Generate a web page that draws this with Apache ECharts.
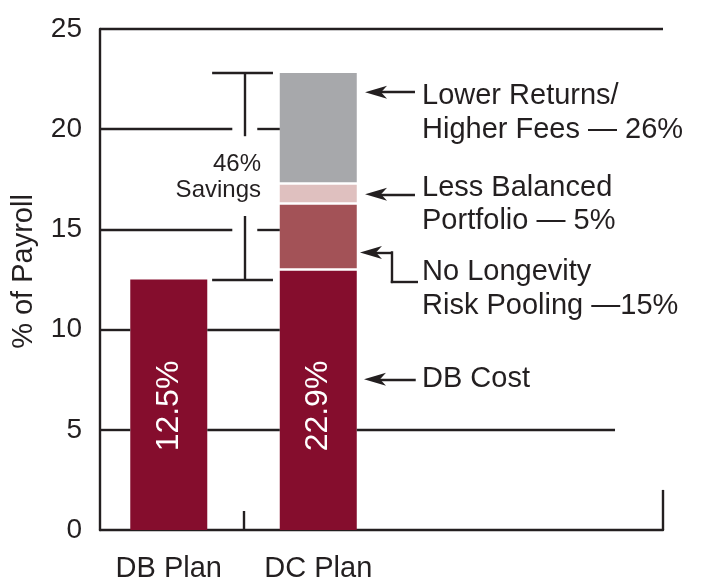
<!DOCTYPE html>
<html>
<head>
<meta charset="utf-8">
<script src="https://cdn.jsdelivr.net/npm/echarts@6/dist/echarts.min.js"></script>
<style>html,body{margin:0;padding:0;background:#fff}#c{width:705px;height:583px}</style>
</head>
<body>
<div id="c"></div>
<script>
// ---- data ----
const categories = ['DB Plan', 'DC Plan'];
const dbCost = [12.5, 13.0];
const longevity = [null, 3.3];
const portfolio = [null, 1.0];
const returnsFees = [null, 5.5];
const barLabels = ['12.5%', '22.9%'];
const yTicks = [0, 5, 10, 15, 20, 25];
const annotationTexts = [
  'Lower Returns/\nHigher Fees \u2014 26%',
  'Less Balanced\nPortfolio \u2014 5%',
  'No Longevity\nRisk Pooling \u201415%',
  'DB Cost'
];
const savingsText = '46%\nSavings';

// ---- style / layout ----
const INK = '#231f20';
const FONT = 'Liberation Sans, Arial, Helvetica, sans-serif';
const LW = 2.4;
const xMin = 0.04, xMax = 3.806;
const half = 38.5 / 149.5;           // half bar width in x units
const colors = ['#850d2d', '#a35257', '#dfc0bf', '#a7a8ab'];
const arrowPath = 'path://M7,0 L14,22 L7,16 L0,22 Z';
const arrowSize = [13, 22];
const arrowHalf = 11 / 149.5;

const cx = i => i + 0.5;
const dcIdx = 1;
const dcL = cx(dcIdx) - half, dcR = cx(dcIdx) + half;
const dbL = cx(0) - half, dbR = cx(0) + half;
const dcTop = dbCost[dcIdx] + longevity[dcIdx] + portfolio[dcIdx] + returnsFees[dcIdx];
const dbTop = dbCost[0];

function seg(x1, y1, x2, y2, extra) {
  const a = Object.assign({coord: [x1, y1]}, extra && extra.from || {});
  const b = Object.assign({coord: [x2, y2]}, extra && extra.to || {});
  if (extra && extra.style) a.lineStyle = extra.style;
  return [a, b];
}

const lines = [];
// gridline segments
const gridSegs = {
  25: [[xMin, xMax]],
  20: [[xMin, 0.925], [1.092, dcL]],
  15: [[xMin, 0.925], [1.092, dcL]],
  10: [[xMin, dbL], [dbR, dcL]],
  5: [[xMin, dbL], [dbR, dcL], [dcR, 3.485]]
};
yTicks.forEach(t => { (gridSegs[t] || []).forEach(r => lines.push(seg(r[0], t, r[1], t))); });
// right end bit
lines.push(seg(xMax, 0, xMax, 2));
// white separators between stacked DC segments
let acc = 0;
[dbCost, longevity, portfolio].forEach(arr => {
  acc += arr[dcIdx];
  lines.push(seg(dcL - 0.01, acc, dcR + 0.01, acc, {style: {color: '#ffffff', width: 2.6}}));
});
// savings bracket
const bx = 1.005;
lines.push(seg(0.79, dcTop, 1.197, dcTop));
lines.push(seg(0.79, dbTop, 1.197, dbTop));
lines.push(seg(bx, dcTop, bx, 19.65));
lines.push(seg(bx, 15.67, bx, dbTop));
// arrows
const arrowFrom = {symbol: arrowPath, symbolSize: arrowSize};
function arrow(tip, tail, y) {
  lines.push(seg(tip + arrowHalf, y, tail, y, {from: arrowFrom}));
}
arrow(1.813, 2.147, 21.85);
arrow(1.813, 2.147, 16.75);
arrow(1.806, 2.152, 7.52);
// bent arrow (longevity)
lines.push(seg(1.779 + arrowHalf, 13.85, 1.993, 13.85, {from: arrowFrom}));
lines.push(seg(1.993, 13.85 + 0.06, 1.993, 12.38 - 0.06));
lines.push(seg(1.993 - 0.008, 12.38, 2.167, 12.38));

// annotation text points
const annY = [20.80, 16.24, 12.02, 7.55];
const textPts = annotationTexts.map((t, i) => ({
  coord: [2.194, annY[i]],
  label: {formatter: t}
}));
textPts.push({
  coord: [1.117, 17.59],
  label: {formatter: savingsText, position: 'left', align: 'right', fontSize: 24, lineHeight: 26}
});

const labelPos = [['50%', '50.5%'], ['50%', '52.4%']];
// data rows are [value, xPosition] so that stacking runs on the value dimension
const rows = arr => arr.map((v, i) => [v == null ? '-' : v, cx(i)]);
const enc = {x: 1, y: 0};

const chart = echarts.init(document.getElementById('c'), null, {renderer: 'canvas'});
chart.setOption({
  animation: false,
  backgroundColor: '#ffffff',
  textStyle: {fontFamily: FONT},
  grid: {left: 100, right: 42, top: 29, bottom: 51, containLabel: false},
  xAxis: {
    type: 'value', min: xMin, max: xMax,
    axisLine: {show: true, lineStyle: {color: INK, width: LW}},
    splitLine: {show: false},
    axisTick: {show: true, customValues: [1], inside: true, length: 19, lineStyle: {color: INK, width: LW}},
    axisLabel: {
      customValues: [cx(0), cx(1)],
      formatter: v => categories[Math.round(v - 0.5)] || '',
      color: INK, fontSize: 29, fontFamily: FONT, margin: 24
    }
  },
  yAxis: {
    type: 'value', min: 0, max: 25, interval: 5,
    name: '% of Payroll', nameLocation: 'middle', nameRotate: 90, nameGap: 62,
    nameTextStyle: {color: INK, fontSize: 29, fontFamily: FONT, padding: [0, 0, 0, 16]},
    axisLine: {show: true, lineStyle: {color: INK, width: LW}},
    axisTick: {show: false},
    splitLine: {show: false},
    axisLabel: {color: INK, fontSize: 28, fontFamily: FONT, margin: 18}
  },
  series: [
    {
      name: 'DB Cost', type: 'bar', stack: 'total', barWidth: 77, encode: enc,
      itemStyle: {color: colors[0]},
      data: rows(dbCost).map((r, i) => ({
        value: r,
        label: {
          show: true, formatter: barLabels[i], rotate: 90,
          position: labelPos[i], align: 'center', verticalAlign: 'middle',
          color: '#ffffff', fontSize: 32, fontFamily: FONT
        }
      })),
      markLine: {
        silent: true, symbol: ['none', 'none'], symbolSize: [arrowSize, 0],
        label: {show: false}, emphasis: {disabled: true},
        lineStyle: {type: 'solid', color: INK, width: LW},
        data: lines
      },
      markPoint: {
        silent: true, symbol: 'circle', symbolSize: 0,
        itemStyle: {color: 'rgba(0,0,0,0)'},
        label: {show: true, position: 'right', distance: 0, color: INK, fontSize: 29, lineHeight: 33.5, fontFamily: FONT, align: 'left'},
        data: textPts
      }
    },
    {
      name: 'No Longevity Risk Pooling', type: 'bar', stack: 'total', barWidth: 77, encode: enc,
      itemStyle: {color: colors[1]},
      data: rows(longevity)
    },
    {
      name: 'Less Balanced Portfolio', type: 'bar', stack: 'total', barWidth: 77, encode: enc,
      itemStyle: {color: colors[2]},
      data: rows(portfolio)
    },
    {
      name: 'Lower Returns/Higher Fees', type: 'bar', stack: 'total', barWidth: 77, encode: enc,
      itemStyle: {color: colors[3]},
      data: rows(returnsFees)
    }
  ]
});
</script>
</body>
</html>
